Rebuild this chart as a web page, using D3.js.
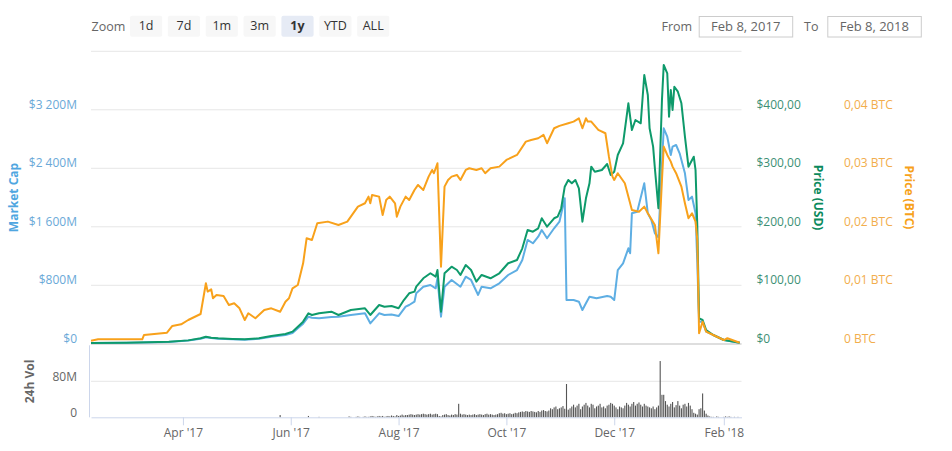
<!DOCTYPE html>
<html><head><meta charset="utf-8">
<script src="https://cdn.jsdelivr.net/npm/d3@7/dist/d3.min.js"></script>
<style>
body{margin:0;background:#fff}
svg{display:block;font-family:"Open Sans",sans-serif}
</style>
</head><body><svg id="c" width="952" height="451"></svg>
<script>
// ---------- DATA ----------
const startDate = "2017-02-08";
const endDate = "2018-02-11";
// [days since startDate, value]
const marketCapM = [[0,3],[20,7],[44,19],[55,38],[62,62],[65,82],[68,72],[72,62],[80,55],[87,49],[95,62],[102,90],[110,114],[114,141],[117,205],[120,268],[123,364],[125,350],[129,342],[136,360],[140,364],[147,387],[155,410],[158,273],[163,410],[166,387],[170,395],[174,373],[178,501],[180,524],[183,569],[184,684],[188,774],[192,797],[195,752],[196,889],[198,364],[200,774],[204,866],[209,774],[212,911],[215,866],[219,661],[221,774],[226,752],[231,821],[236,934],[241,1002],[244,1139],[247,1413],[250,1368],[253,1458],[255,1549],[258,1436],[262,1573],[265,1663],[268,1983],[269,592],[273,592],[276,569],[278,455],[280,547],[282,637],[286,615],[292,647],[294,637],[296,592],[298,1002],[301,1094],[304,1299],[305,1231],[306,1778],[309,1800],[313,2188],[315,1778],[317,1686],[319,1504],[321,1450],[324,2940],[326,2825],[328,2575],[329,2689],[331,2712],[333,2598],[336,2325],[338,1960],[340,2005],[342,1778],[343,1100],[344,295],[346,295],[348,159],[352,114],[358,45],[367,8]];
const priceUSD = [[0,0.5],[20,1],[44,2.8],[55,5],[62,8.5],[65,11.3],[68,9.5],[72,8.5],[80,7.5],[87,6.8],[95,8.5],[102,12.5],[110,15.9],[114,19.9],[117,28.4],[120,37],[123,51.3],[125,48.4],[129,51.3],[136,54.1],[140,48.4],[147,57],[155,59.8],[158,48.4],[163,65.5],[166,62.6],[170,63.8],[174,59.8],[177,74],[180,85.5],[183,88.3],[184,96.8],[188,111.1],[192,119.7],[195,113.9],[196,125.3],[198,54],[200,119.7],[204,131],[207,125.3],[209,116.8],[212,133.8],[215,125.3],[218,105.3],[221,116.8],[226,111.1],[231,119.7],[236,136.8],[241,142.4],[244,162.4],[247,193.7],[250,190.8],[253,196.6],[255,213.7],[258,199.3],[262,213.7],[264,216.4],[266,230.8],[268,267.7],[270,279.2],[272,273.5],[274,279.2],[276,265],[278,207.9],[280,247.9],[282,273.5],[283,301.9],[285,293.3],[289,296.2],[292,306.5],[294,287.7],[296,293.3],[298,321.9],[301,341.9],[304,410.3],[306,364.6],[308,381.7],[311,376.1],[313,458.6],[315,424.4],[316,367.5],[318,336.1],[319,299.1],[321,230.8],[323,415.9],[324,475.7],[326,461.5],[327,387.4],[328,433],[329,398.8],[330,438.6],[332,430.1],[334,410.3],[336,353.2],[338,301.9],[341,319],[342,296],[343,200],[344,42.7],[346,39.8],[348,22.7],[352,14.2],[358,5.6],[367,1]];
const priceBTC = [[0,0.00045],[4,0.00068],[29,0.00068],[30,0.00142],[43,0.00181],[46,0.00296],[51,0.00325],[55,0.00398],[62,0.00501],[65,0.01026],[66,0.00883],[68,0.00923],[69,0.0077],[71,0.00826],[75,0.00809],[78,0.00655],[81,0.00684],[84,0.00598],[87,0.00398],[89,0.00513],[93,0.00428],[98,0.0057],[102,0.00598],[107,0.0054],[110,0.00711],[112,0.0077],[114,0.0094],[117,0.00997],[120,0.01368],[122,0.01796],[125,0.01767],[128,0.02052],[134,0.0208],[140,0.02023],[145,0.0208],[147,0.02165],[151,0.02336],[155,0.02394],[157,0.02507],[158,0.02394],[159,0.02536],[163,0.02507],[165,0.02194],[167,0.0245],[169,0.02507],[172,0.02394],[173,0.02165],[175,0.02336],[178,0.02507],[180,0.0245],[183,0.02621],[185,0.02707],[188,0.02621],[191,0.02849],[193,0.02963],[194,0.02907],[196,0.03078],[198,0.0131],[200,0.02678],[202,0.02792],[204,0.02849],[207,0.02878],[209,0.02792],[212,0.02963],[214,0.02992],[218,0.02963],[221,0.02992],[223,0.02907],[226,0.02992],[231,0.0302],[235,0.03134],[241,0.0322],[246,0.03447],[249,0.03476],[253,0.03505],[256,0.03562],[258,0.0342],[262,0.03676],[265,0.03716],[270,0.03762],[273,0.0379],[276,0.03846],[278,0.03676],[280,0.03846],[281,0.0379],[283,0.0379],[287,0.03647],[291,0.03591],[293,0.03191],[295,0.02849],[296,0.02792],[298,0.02907],[302,0.02736],[306,0.0228],[310,0.0225],[313,0.02336],[315,0.02223],[319,0.02023],[321,0.01539],[323,0.02792],[324,0.03362],[326,0.0322],[328,0.03105],[329,0.0302],[331,0.02907],[334,0.02678],[336,0.02394],[338,0.02137],[340,0.02223],[342,0.0208],[343,0.01767],[344,0.00171],[346,0.0037],[348,0.00199],[352,0.00142],[358,0.00056],[360,0.00086],[367,0.0001]];
// daily 24h volume in $M, starting at volumeStart
const volumeStart = "2017-05-24";
const volumeM = [
0,0,5,0,0,0,0,0,0,0,
0,0,0,0,0,0,0,0,3,0,
0,0,0,0,1,0,0,0,0,0,
0,0,0,0,0,0,0,0,0,0,
0,2,1,0,0,1,2,1,0,1,
2,1,1,2,3,2,1,2,3,2,
3,1,2,3,2,4,3,2,5,3,
4,6,4,5,5,6,7,6,5,6,
7,6,7,8,7,6,7,8,6,7,
8,7,3,2,5,6,7,5,4,6,
5,7,6,30,8,6,7,6,5,6,
5,6,7,5,6,7,6,5,7,8,
6,7,6,5,6,7,9,10,8,9,
7,8,9,7,8,10,9,11,12,13,
12,14,13,12,14,13,12,11,14,12,
15,16,14,13,15,20,18,22,24,18,
20,22,25,19,74,17,20,24,28,22,
26,30,18,24,28,32,26,22,30,28,
20,24,26,30,22,24,20,26,28,32,
30,26,22,18,24,22,20,26,32,28,
24,30,34,26,30,33,28,24,30,26,
24,22,20,24,18,22,26,125,50,50,
36,28,24,30,34,22,27,36,26,20,
28,30,24,32,26,18,10,8,6,18,
20,53,15,8,4,2,1,1,0,2,
1,0,0,1,2,1,2,1,0,1,
0,1,0];
const capTicks = [0,800,1600,2400,3200];
const capGrid = [0,800,1600,2400,3200,4000];
const usdTicks = [0,100,200,300,400];
const btcTicks = [0,0.01,0.02,0.03,0.04];
const volTicks = [0,80];
const monthTicks = ["2017-04-01","2017-06-01","2017-08-01","2017-10-01","2017-12-01","2018-02-01"];
const zoomButtons = ["1d","7d","1m","3m","1y","YTD","ALL"];
const selectedZoom = "1y";
const fromLabel = "Feb 8, 2017", toLabel = "Feb 8, 2018";

// ---------- CHART ----------
const svg = d3.select("#c");
const parse = d3.timeParse("%Y-%m-%d");
const t0 = parse(startDate);
const dayDate = d => d3.timeDay.offset(t0, d);

const X0 = 91, X1 = 741.5;
const x = d3.scaleTime().domain([t0, parse(endDate)]).range([X0, X1]);
const mainRange = [343.3, 50.8];
const yCap = d3.scaleLinear().domain([0,4000]).range(mainRange);
const yUSD = d3.scaleLinear().domain([0,500]).range(mainRange);
const yBTC = d3.scaleLinear().domain([0,0.05]).range(mainRange);
const yVol = d3.scaleLinear().domain([0,160]).range([417.3, 345.3]);

const C = {blue:"#5eaee3", green:"#0e9a6b", orange:"#f8a11b", grid:"#e6e6e6", axis:"#ccd6eb"};

// gridlines
svg.append("g").attr("transform",`translate(${X0},0)`)
  .call(d3.axisLeft(yCap).tickValues(capGrid).tickSize(-(X1-X0)).tickFormat(""))
  .call(g=>g.select(".domain").remove())
  .selectAll("line").attr("stroke",C.grid);

// separator under main pane
svg.append("line").attr("x1",X0).attr("x2",X1).attr("y1",yCap(0)+0.8).attr("y2",yCap(0)+0.8)
  .attr("stroke","#dedede").attr("stroke-width",2);

const loc = d3.formatLocale({decimal:",",thousands:" ",grouping:[3],currency:["$",""]});
const capFmt = d => d===0 ? "$0" : "$"+loc.format(",")(d)+"M";
const usdFmt = d => d===0 ? "$0" : "$"+loc.format(".2f")(d);
const btcFmt = d => d===0 ? "0 BTC" : loc.format(".2f")(d)+" BTC";

function styleAxis(g, color){
  g.select(".domain").remove();
  g.selectAll("line").remove();
  g.selectAll("text").attr("fill",color).attr("font-size","12px").attr("dy","-0.1em")
   .attr("font-family","Open Sans, sans-serif");
}
svg.append("g").attr("transform","translate(77,0)")
  .call(d3.axisLeft(yCap).tickValues(capTicks).tickSize(0).tickPadding(0).tickFormat(capFmt))
  .call(g=>styleAxis(g,"#6aa9d8"));
svg.append("g").attr("transform","translate(756.5,0)")
  .call(d3.axisRight(yUSD).tickValues(usdTicks).tickSize(0).tickPadding(0).tickFormat(usdFmt))
  .call(g=>styleAxis(g,"#3c8f75"));
svg.append("g").attr("transform","translate(844,0)")
  .call(d3.axisRight(yBTC).tickValues(btcTicks).tickSize(0).tickPadding(0).tickFormat(btcFmt))
  .call(g=>styleAxis(g,"#f2ad4c"));

// axis titles
function title(txt, tx, ty, rot, color){
  svg.append("text").attr("transform",`translate(${tx},${ty}) rotate(${rot})`)
    .attr("text-anchor","middle").attr("font-size","12px").attr("font-weight","bold")
    .attr("fill",color).text(txt);
}
title("Market Cap", 17.5, 197.5, -90, "#4fa6e0");
title("Price (USD)", 813.5, 197.5, 90, "#0b8a5c");
title("Price (BTC)", 905, 197.5, 90, "#f7a21a");
title("24h Vol", 33.5, 381.5, -90, "#666666");

// lines
const mk = y => d3.line().x(d=>x(dayDate(d[0]))).y(d=>y(d[1]));
const lines = [[marketCapM,yCap,C.blue],[priceUSD,yUSD,C.green],[priceBTC,yBTC,C.orange]];
lines.forEach(([data,y,col])=>{
  svg.append("path").datum(data).attr("d",mk(y)).attr("fill","none")
    .attr("stroke",col).attr("stroke-width",2).attr("stroke-linejoin","round");
});

// volume pane
svg.append("line").attr("x1",X0).attr("x2",X1).attr("y1",yVol(80)).attr("y2",yVol(80)).attr("stroke",C.grid);
svg.append("line").attr("x1",X0-1.5).attr("x2",X0-1.5).attr("y1",yVol(160)).attr("y2",yVol(0)).attr("stroke",C.axis);
svg.append("g").attr("transform","translate(77,0)")
  .call(d3.axisLeft(yVol).tickValues(volTicks).tickSize(0).tickPadding(0).tickFormat(d=>d===0?"0":d+"M"))
  .call(g=>styleAxis(g,"#666666"));
const vs = parse(volumeStart);
svg.append("g").selectAll("rect").data(volumeM).join("rect")
  .attr("x",(d,i)=>x(d3.timeDay.offset(vs,i))-0.55).attr("width",1.1)
  .attr("y",d=>yVol(d)).attr("height",d=>yVol(0)-yVol(d)).attr("fill","#555");

const xAxis = svg.append("g").attr("transform",`translate(0,${yVol(0)})`)
  .call(d3.axisBottom(x).tickValues(monthTicks.map(parse)).tickSize(8).tickSizeOuter(0)
    .tickFormat(d3.timeFormat("%b '%y")));
xAxis.select(".domain").attr("stroke",C.axis);
xAxis.selectAll(".tick line").attr("stroke",C.axis);
xAxis.selectAll("text").attr("fill","#666").attr("font-size","12px").attr("font-family","Open Sans, sans-serif");

// range selector
svg.append("text").attr("x",91.5).attr("y",30.5).attr("font-size","12.5px").attr("fill","#666").text("Zoom");
const bx = d3.scaleBand().domain(zoomButtons).range([130, 389.3]).paddingInner(0.15);
const btn = svg.append("g").selectAll("g").data(zoomButtons).join("g")
  .attr("transform",d=>`translate(${bx(d)},15.7)`);
btn.append("rect").attr("width",bx.bandwidth()).attr("height",21).attr("rx",2)
  .attr("fill",d=>d===selectedZoom?"#e6ebf5":"#f7f7f7");
btn.append("text").attr("x",bx.bandwidth()/2).attr("y",14.8).attr("text-anchor","middle")
  .attr("font-size","12.5px").attr("fill","#333").attr("font-weight",d=>d===selectedZoom?"bold":"normal").text(d=>d);

svg.append("text").attr("x",661.5).attr("y",30.5).attr("font-size","12.5px").attr("fill","#666").text("From");
svg.append("text").attr("x",804).attr("y",30.5).attr("font-size","12.5px").attr("fill","#666").text("To");
[[698.7,fromLabel],[827.3,toLabel]].forEach(([bxp,label])=>{
  svg.append("rect").attr("x",bxp+0.5).attr("y",16.5).attr("width",93.5).attr("height",20.5)
    .attr("fill","#fff").attr("stroke","#cccccc");
  svg.append("text").attr("x",bxp+47).attr("y",31).attr("text-anchor","middle")
    .attr("font-size","13px").attr("fill","#666").text(label);
});
</script>
</body></html>
